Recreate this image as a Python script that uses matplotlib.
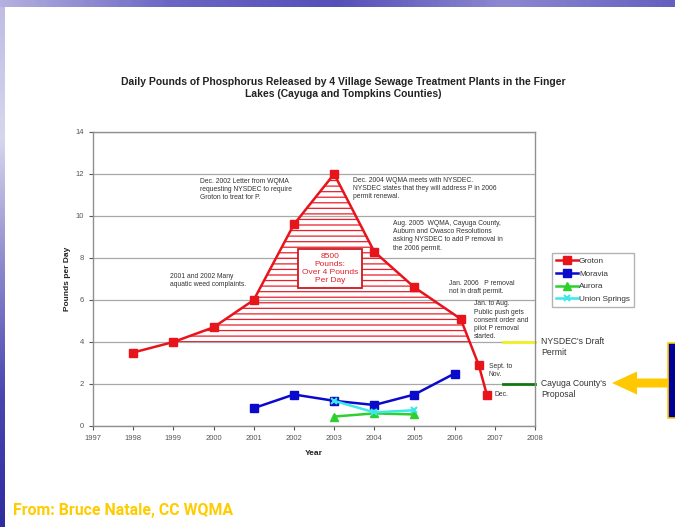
import numpy as np
import matplotlib
matplotlib.use("Agg")
import matplotlib.pyplot as plt
from matplotlib.patches import Rectangle, FancyArrow

# ---- data ----
groton_x = [1998, 1999, 2000, 2001, 2002, 2003, 2004, 2005, 2006.15, 2006.6, 2006.8]
groton_y = [3.5, 4.0, 4.7, 6.0, 9.6, 12.0, 8.3, 6.6, 5.1, 2.9, 1.5]
moravia_x = [2001, 2002, 2003, 2004, 2005, 2006]
moravia_y = [0.85, 1.5, 1.2, 1.0, 1.5, 2.5]
aurora_x = [2003, 2004, 2005]
aurora_y = [0.45, 0.6, 0.55]
union_x = [2003, 2004, 2005]
union_y = [1.2, 0.65, 0.75]
draft_permit = 4.0
county_proposal = 2.0
target_x = [2007.2, 2008]
year_ticks = list(range(1997, 2009))
y_ticks = list(range(0, 15, 2))

plt.rcParams["font.family"] = ["Liberation Sans", "DejaVu Sans"]
plt.rcParams["hatch.linewidth"] = 0.9
plt.rcParams["hatch.color"] = "#E8202A"

fig = plt.figure(figsize=(6.75, 5.27), dpi=100)
W, H = 675, 527

# slide decoration: gradient strips on top and left
top = fig.add_axes([0, 1 - 7 / H, 1, 7 / H])
top.imshow(np.linspace(0, 1, 200)[None, :], aspect="auto",
           cmap=matplotlib.colors.LinearSegmentedColormap.from_list(
               "t", ["#B4B0E0", "#6A66C4", "#5550B8", "#8C88D0", "#6560C0"]))
top.axis("off")
left = fig.add_axes([0, 0, 5 / W, 1 - 7 / H])
left.imshow(np.linspace(0, 1, 200)[:, None], aspect="auto",
            cmap=matplotlib.colors.LinearSegmentedColormap.from_list(
                "l", ["#C0BCE4", "#D8D6EE", "#8C88CC", "#4A46B0", "#2E2CA0"]))
left.axis("off")

ax = fig.add_axes([93 / W, 1 - 426 / H, (535 - 93) / W, (426 - 132) / H])
ax.set_xlim(1997, 2008)
ax.set_ylim(0, 14)
ax.set_xticks(year_ticks)
ax.set_yticks(y_ticks)
ax.tick_params(labelsize=5.5, colors="#555555", length=3, width=0.8)
for s in ax.spines.values():
    s.set_color("#909090")
    s.set_linewidth(1)
ax.grid(axis="y", color="#A8A8A8", linewidth=0.9)
ax.set_axisbelow(True)

gx = np.array(groton_x)
gy = np.array(groton_y)
ax.fill_between(gx, draft_permit, gy, where=gy >= draft_permit, interpolate=True,
                facecolor="none", edgecolor="#E8202A", hatch="---", linewidth=0)

red = "#E8141C"
ax.plot(groton_x, groton_y, color=red, lw=1.8, marker="s", ms=6, label="Groton", zorder=5)
ax.plot(moravia_x, moravia_y, color="#0A0ACC", lw=1.8, marker="s", ms=6, label="Moravia", zorder=5)
ax.plot(aurora_x, aurora_y, color="#2ED02E", lw=1.8, marker="^", ms=6, label="Aurora", zorder=5)
ax.plot(union_x, union_y, color="#3CE8E8", lw=1.8, marker="x", ms=5, mew=1.5,
        label="Union Springs", zorder=6)
ax.plot(target_x, [draft_permit] * 2, color="#F0F020", lw=2, clip_on=False)
ax.plot(target_x, [county_proposal] * 2, color="#0E7A0E", lw=2, clip_on=False)

tk = dict(fontsize=4.9, color="#333333", va="top", ha="left", linespacing=1.22)
ax.text(1999.66, 11.82, "Dec. 2002 Letter from WQMA\nrequesting NYSDEC to require\nGroton to treat for P.", **tk)
ax.text(2003.47, 11.85, "Dec. 2004 WQMA meets with NYSDEC.\nNYSDEC states that they will address P in 2006\npermit renewal.", **tk)
ax.text(2004.46, 9.8, "Aug. 2005  WQMA, Cayuga County,\nAuburn and Owasco Resolutions\nasking NYSDEC to add P removal in\nthe 2006 permit.", **tk)
ax.text(1998.92, 7.3, "2001 and 2002 Many\naquatic weed complaints.", **tk)
ax.text(2005.86, 6.95, "Jan. 2006   P removal\nnot in draft permit.", **tk)
ax.text(2006.48, 5.98, "Jan. to Aug.\nPublic push gets\nconsent order and\npilot P removal\nstarted.", **tk)
ax.text(2006.85, 3.02, "Sept. to\nNov.", **tk)
ax.text(2007.0, 1.52, "Dec.", fontsize=4.9, color="#333333", va="center", ha="left")
ax.text(2002.9, 7.5, "8500\nPounds:\nOver 4 Pounds\nPer Day", fontsize=6, color="#E0202A",
        ha="center", va="center", linespacing=1.25, zorder=7,
        bbox=dict(boxstyle="square,pad=0.45", fc="white", ec="#D01820", lw=1.3))

ax.set_ylabel("Pounds per Day", fontsize=6, fontweight="bold", color="#222222", labelpad=3)
ax.set_xlabel("Year", fontsize=6, fontweight="bold", color="#222222", labelpad=6)

fig.text(343 / W, 1 - 88 / H,
         "Daily Pounds of Phosphorus Released by 4 Village Sewage Treatment Plants in the Finger\n"
         "Lakes (Cayuga and Tompkins Counties)",
         fontsize=7.45, fontweight="bold", color="#222222", ha="center", va="center",
         linespacing=1.3)

leg = fig.legend(loc="upper left", bbox_to_anchor=(552 / W, 1 - 253 / H), fontsize=5.9,
                 frameon=True, fancybox=False, edgecolor="#A0A0A0", handlelength=2.7,
                 handletextpad=0.1, labelspacing=0.62, borderpad=0.5, borderaxespad=0,
                 markerscale=1.0)
for t in leg.get_texts():
    t.set_color("#333333")

fig.text(541 / W, 1 - 347 / H, "NYSDEC's Draft\nPermit", fontsize=6.2, color="#333333",
         ha="left", va="center", linespacing=1.4)
fig.text(541 / W, 1 - 389 / H, "Cayuga County's\nProposal", fontsize=6.2, color="#333333",
         ha="left", va="center", linespacing=1.4)

# blue box and yellow arrow on the slide
fig.patches.append(Rectangle((668 / W, 1 - 418 / H), 20 / W, 75 / H, transform=fig.transFigure,
                             facecolor="#000099", edgecolor="#FFCC00", lw=1.2))
fig.patches.append(FancyArrow(668 / W, 1 - 383 / H, -56 / W, 0, width=9 / H, head_width=23 / H,
                              head_length=25 / W, length_includes_head=True,
                              transform=fig.transFigure, color="#FFC800", lw=0))

fig.text(13 / W, 1 - 511 / H, "From: Bruce Natale, CC WQMA", fontsize=11.4, fontweight="bold",
         color="#FFCC00", ha="left", va="center", family=["Roboto", "DejaVu Sans"])

fig.savefig("out.png", dpi=100)
